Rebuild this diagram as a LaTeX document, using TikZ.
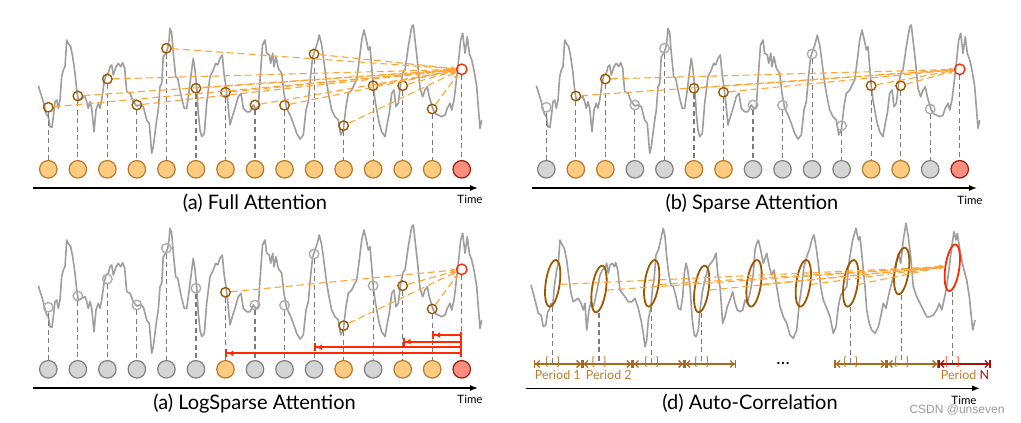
\documentclass[tikz,border=0pt]{standalone}
\usepackage{fontspec}
\setmainfont{Lato}
\newfontfamily\wmfont{Liberation Sans}
\usetikzlibrary{arrows.meta,shapes.geometric,positioning}

\definecolor{seriesgray}{HTML}{9E9E9E}
\definecolor{guidegray}{HTML}{7A7A7A}
\definecolor{attnorange}{HTML}{FFA436}
\definecolor{markbrown}{HTML}{9C5800}
\definecolor{tokfill}{HTML}{FFCB80}
\definecolor{tokdraw}{HTML}{B37A2B}
\definecolor{greyfill}{HTML}{D5D5D5}
\definecolor{greydraw}{HTML}{7F7F7F}
\definecolor{redfill}{HTML}{FF8E7E}
\definecolor{reddraw}{HTML}{951A0D}
\definecolor{hotred}{HTML}{FF2A00}
\definecolor{periodbrown}{HTML}{A86A1C}
\definecolor{labelbrown}{HTML}{BC7C2C}
\definecolor{periodred}{HTML}{A31212}

% sampled series, shared by the three attention panels
\newcommand{\seriesA}{plot coordinates {(38.3,85.7) (43.3,101.7) (46,113.3) (48.3,116.7) (50,126.7) (52,127.3) (53.3,116.7) (55,101.7) (56.7,100) (58.3,108.3) (60,100) (61.7,76.7) (63.3,70) (65,66.7) (66.7,40) (68.3,43.3) (70.7,46.7) (72.7,56.7) (75,73.3) (76.7,90) (78.3,100) (81.7,98.3) (85,96.7) (86.7,101.7) (88.3,108.3) (90,101.7) (91.7,108.3) (94,131.7) (96,110) (98.3,103.3) (100,108.3) (101.7,100) (104,83.3) (106,75) (108.3,73.3) (110,66.7) (111.7,65) (113.3,75) (116,66.7) (118.3,63.3) (120.7,66.7) (122.7,62.7) (124.7,68.3) (126.7,91.7) (130,93.3) (133.3,101.7) (136.7,106) (140,105) (143.3,106.7) (146.7,120) (149.3,123.3) (151.7,153.3) (153.3,146.7) (156.7,120) (158.3,110) (160,86.7) (161.7,83.3) (163.3,56.7) (165.7,53.3) (167.7,48.3) (169,40) (170,28.3) (171.7,33.3) (173.3,53.3) (175.7,76.7) (177.7,78.3) (179.3,86.7) (181.7,98.3) (184.3,108.3) (186.7,108.3) (189,91.7) (191.7,70) (193.3,58.3) (195,70) (196.7,86.7) (198.3,113.3) (200,130) (201.7,136.7) (204.3,133.3) (206.7,103.3) (210,76.7) (213.3,70) (215.7,63.3) (217.7,65) (220,58.3) (222.3,55) (224,73.3) (225.7,85) (227.7,101.7) (230,125) (232.3,116.7) (235,108.3) (238.3,96.7) (241,93.3) (243.3,108.3) (246.7,111.7) (250,111.7) (253.3,105) (255.7,108.3) (258.3,106.7) (260,80) (262.5,45) (265,40) (266.7,53.3) (269.3,55) (270.7,63.3) (272.7,53.3) (274,66.7) (276,56.7) (278.3,68.3) (281.7,73.3) (284,93.3) (286.7,108.3) (290,115) (293.3,123.3) (296.7,133.3) (300,139) (303.3,135) (306,110) (308.3,101.7) (310.7,75) (312.7,56.7) (315,50) (317.3,43.3) (319.3,35) (321.7,45) (323.3,56.7) (326.7,83.3) (329.3,98.3) (331.7,110) (335,116.7) (338.3,120) (340.7,135) (343.3,130) (346,106.7) (348.3,93.3) (351.7,90) (354,85) (356.7,80) (359.3,60) (361.7,40) (364,30) (366.7,41.7) (368.3,50) (370,46.7) (371.7,66.7) (373.3,86.7) (375,100) (376.7,110) (379.3,123.3) (381.7,131.7) (385,136.7) (387.3,123.3) (389.3,113.3) (391.7,93.3) (394,90) (396,106.7) (398.3,103.3) (400.7,83.3) (403.3,71.7) (405,70) (408.3,46.7) (411.7,26.7) (413.3,25) (415,40) (417.3,60) (420,88.3) (422.7,96.7) (425,90) (427.3,86.7) (429.3,96.7) (431.7,105) (433.3,110) (436,114) (438.3,115) (441.7,116.7) (445,115) (447.3,108.3) (450,103.3) (451.7,110) (454,100) (456,83.3) (458.3,63.3) (460.7,40) (462.7,33.3) (465,53.3) (467.3,36.7) (469.3,53.3) (471.7,60) (474,70) (476.7,86.7) (478.3,106.7) (480,128.3) (481.7,120)}}
% periodic series of the auto-correlation panel
\newcommand{\seriesD}{plot coordinates {(531,285) (535,300) (538.3,313.3) (541,315) (543.3,326.7) (545.7,325) (547.7,311.7) (549.3,310) (551,303.3) (552.7,306.7) (554.3,286.7) (556.7,270) (558.3,263.3) (560,240) (562.3,245) (564.3,248.3) (566.7,260) (569,278.3) (571,293.3) (573.3,301.7) (575.7,300) (578.3,298.3) (581,303.3) (583.3,310) (585,303.3) (586.7,330) (589,310) (591,301.7) (593.3,306.7) (595,300) (597.7,286.7) (600,275) (602.3,270) (605,268.3) (606.7,263.3) (608.3,273.3) (610,265) (612.3,263.3) (614.3,266.7) (615.7,262.7) (617.7,270) (620,290) (622.3,293.3) (625,296.7) (628.3,301.7) (631.7,301.7) (635,298.3) (638.3,308.3) (641,320) (643.3,333.3) (645,346.7) (646.7,340) (648.3,320) (650.7,308.3) (652.7,286.7) (654,280) (656,255) (658.3,250) (660,243.3) (661.7,235) (663.3,228.3) (665,236.7) (666.7,256.7) (668.7,273.3) (670.7,285) (673.3,286.7) (676,296.7) (678.3,308.3) (680.7,310) (682.7,296.7) (684.3,273.3) (686,263.3) (687.7,270) (690,286.7) (692.3,320) (694.3,335) (696,336.7) (698.3,330) (700,310) (702.7,290) (705,280) (708.3,266.7) (710.7,263.3) (713.3,260) (716,253.3) (717.7,273.3) (720,286.7) (722.7,323.3) (725,316.7) (727.3,306.7) (730,300) (732.7,291.7) (735,303.3) (737.3,310) (740,311.7) (742.7,310) (745,300) (747.3,303.3) (750,293.3) (753.3,273.3) (755,250) (756.7,243.3) (758.3,240) (760,246.7) (763.3,263.3) (766.7,253.3) (769.3,266.7) (771.7,275) (774,270) (776.7,286.7) (780,306.7) (783.3,316.7) (786.7,323.3) (790,335) (793.3,338.3) (796.7,330) (799.3,303.3) (801.7,286.7) (804,266.7) (806.7,256.7) (809.3,250) (811.7,240) (814,235) (816,246.7) (818.3,263.3) (820.7,286.7) (823.3,300) (826.7,308.3) (830,316.7) (833.3,333.3) (836,326.7) (838.3,306.7) (840.7,295) (843.3,291.7) (846.7,286.7) (849.3,260) (852.7,240) (856,228.3) (858.3,240) (860,236.7) (861.7,253.3) (863.3,270) (865,286.7) (866.7,310) (869.3,323.3) (871.7,330) (875,333.3) (878.3,326.7) (880.7,316.7) (883.3,303.3) (886,308.3) (888.3,296.7) (890.7,286.7) (893.3,276.7) (896,266.7) (898.3,253.3) (900.7,263.3) (903.3,240) (906,223.3) (908.3,236.7) (910.7,256.7) (913.3,286.7) (916.7,296.7) (920,303.3) (923.3,310) (926.7,316.7) (930,316.7) (933.3,315) (936.7,310) (939.3,303.3) (941.7,310) (944,300) (946.7,286.7) (949.3,266.7) (951.7,246.7) (954,231.7) (956,240) (957.3,233.3) (959.3,246.7) (961.7,260) (964,270) (966.7,280) (969.3,296.7) (972.7,330) (975,320)}}

\begin{document}
\begin{tikzpicture}[
    x=1pt, y=-1pt,
    curve/.style={seriesgray, line width=1.6pt, line join=round},
    tok/.style={circle, minimum size=17.5pt, inner sep=0pt, line width=1.2pt},
    tok-o/.style={tok, draw=tokdraw, fill=tokfill},
    tok-g/.style={tok, draw=greydraw, fill=greyfill},
    tok-r/.style={tok, draw=reddraw, fill=redfill},
    mk/.style={circle, minimum size=9.5pt, inner sep=0pt, line width=1.4pt},
    mk-o/.style={mk, draw=markbrown},
    mk-g/.style={mk, draw=seriesgray!85},
    mk-r/.style={mk, draw=hotred, minimum size=10.5pt},
    guide/.style={guidegray, line width=1.1pt, dash pattern=on 5pt off 3.5pt},
    attn/.style={attnorange, line width=1.1pt, dash pattern=on 7pt off 4pt, -{Stealth[length=5pt, width=4pt]}},
    timeaxis/.style={black, line width=1.4pt, -{Latex[length=8pt, width=6pt]}},
    caption/.style={font=\fontsize{20}{22}\selectfont},
    timelbl/.style={font=\fontsize{11.5}{12}\selectfont},
    logbar/.style={draw=hotred, line width=2pt, {Bar[width=7pt]}-{Latex[length=6pt, width=6pt]Bar[width=8pt]}},
    ellip/.style={ellipse, draw=markbrown, line width=1.8pt, minimum width=14pt, minimum height=47pt, inner sep=0pt, rotate=-8},
    period/.style={periodbrown, line width=1.3pt, {Bar[width=8pt]Straight Barb[length=3.5pt, width=7pt]}-{Straight Barb[length=3.5pt, width=7pt]Bar[width=8pt]}},
    brk/.style={text=periodbrown, inner sep=0pt, font=\fontsize{11}{11}\selectfont},
    plbl/.style={text=labelbrown, inner sep=0pt, font=\fontsize{12.5}{13}\selectfont}
]
\fill[white] (0,0) rectangle (1021,423);
\useasboundingbox (0,0) rectangle (1021,423);

% (a) full attention
\draw[curve] \seriesA;
\foreach \yy/\kk [count=\i from 0] in {107.3/o,96/o,79/o,105/o,48.3/o,88.3/o,92.3/o,105/o,105.3/o,54/o,125.7/o,85.7/o,85.7/o,109/o,69.3/r}{
  \node[tok-\kk] (a-t\i) at ({48.3+29.53*\i},169.3) {};
  \node[mk-\kk] (a-m\i) at ({48.3+29.53*\i},\yy) {};
  \draw[guide] (a-m\i) -- (a-t\i);
}
\foreach \i in {0,...,13} \draw[attn] (a-m\i) -- (a-m14);
\coordinate (a-from) at (33,188);
\coordinate (a-to) at (478,188);
\draw[timeaxis] (a-from) -- (a-to);
\node[timelbl] (a-time) at (470,199) {Time};
\node[caption] (a-cap) at (255,203) {(a) Full Attention};

% (b) sparse attention
\begin{scope}[shift={(498,0)}]
\draw[curve] \seriesA;
\foreach \yy/\kk [count=\i from 0] in {107.3/g,96/o,79/o,105/g,48.3/g,88.3/o,92.3/o,105/g,105.3/g,54/g,125.7/g,85.7/o,85.7/o,109/g,69.3/r}{
  \node[tok-\kk] (b-t\i) at ({48.3+29.53*\i},169.3) {};
  \node[mk-\kk] (b-m\i) at ({48.3+29.53*\i},\yy) {};
  \draw[guide] (b-m\i) -- (b-t\i);
}
\foreach \i in {1,2,5,6,11,12} \draw[attn] (b-m\i) -- (b-m14);
\coordinate (b-from) at (34,188);
\coordinate (b-to) at (479,188);
\draw[timeaxis] (b-from) -- (b-to);
\node[timelbl] (b-time) at (472,200) {Time};
\node[caption] (b-cap) at (254,203) {(b) Sparse Attention};
\end{scope}

% (c) logsparse attention
\begin{scope}[shift={(0,200)}]
\draw[curve] \seriesA;
\foreach \yy/\kk [count=\i from 0] in {107.3/g,96/g,79/g,105/g,48.3/g,88.3/g,92.3/o,105/g,105.3/g,54/g,125.7/o,85.7/g,85.7/o,109/o,69.3/r}{
  \node[tok-\kk] (c-t\i) at ({48.3+29.53*\i},169.3) {};
  \node[mk-\kk] (c-m\i) at ({48.3+29.53*\i},\yy) {};
  \draw[guide] (c-m\i) -- (c-t\i);
}
\foreach \i in {6,10,12,13} \draw[attn] (c-m\i) -- (c-m14);
\foreach \j/\h in {13/34.3,12/27.6,9/22,6/16}{
  \coordinate (c-r\j) at ([yshift=\h pt]c-t14.center);
  \coordinate (c-l\j) at ([yshift=\h pt]c-t\j.center);
  \draw[logbar] (c-r\j) -- (c-l\j);
}
\coordinate (c-from) at (33,188);
\coordinate (c-to) at (478,188);
\draw[timeaxis] (c-from) -- (c-to);
\node[timelbl] (c-time) at (470,199) {Time};
\node[caption] (c-cap) at (254.5,204) {(a) LogSparse Attention};
\end{scope}

% (d) auto-correlation
\draw[curve] \seriesD;
\foreach \xx/\yy [count=\i] in {552.7/283.3,599/289,651.7/283.3,701.7/289,754/283.3,803.3/283.3,850.7/283.3,901.7/271}
  \node[ellip] (d-e\i) at (\xx,\yy) {};
\node[ellip, draw=hotred] (d-e9) at (952.3,267.7) {};
\foreach \i in {1,...,8} \draw[attn] (d-e\i.east) -- (d-e9.west);
\foreach \xx [count=\i from 0] in {534,582.3,632.7,684.3,736,834.3,886.7,938.3,990.7}
  \coordinate (d-s\i) at (\xx,364);
\foreach \i in {1,2,3,4,7,8,9}
  \draw[guide] (d-e\i |- d-e\i.south) -- (d-e\i |- d-s0);
\foreach \i/\j in {0/1,1/2,2/3,3/4,5/6,6/7} \draw[period] (d-s\i) -- (d-s\j);
\draw[period, periodred] (d-s7) -- (d-s8);
\foreach \i in {1,2,3,4,7,8}
  \node[brk, yshift=1.5pt] (d-k\i) at (d-e\i |- d-s0) {[\hspace{8pt}]};
\node[brk, text=hotred, yshift=1.5pt] (d-k9) at (d-e9 |- d-s0) {[\hspace{8pt}]};
\node[font=\fontsize{18}{18}\selectfont] (d-dots) at (783,363.5) {\dots};
\node[plbl] (d-l1) at (557.8,374.5) {Period 1};
\node[plbl] (d-l2) at (608.8,374.5) {Period 2};
\node[plbl] (d-l3) at (965,374.5) {Period \textcolor{periodred}{N}};
\coordinate (d-from) at (526,388.3);
\coordinate (d-to) at (980,388.3);
\draw[timeaxis] (d-from) -- (d-to);
\node[timelbl] (d-time) at (964,400) {Time};
\node[caption] (d-cap) at (750,403.3) {(d) Auto-Correlation};
\node[text=black!40, font=\wmfont\fontsize{12}{12}\selectfont] (mark) at (957,410) {CSDN @unseven};
\end{tikzpicture}
\end{document}
